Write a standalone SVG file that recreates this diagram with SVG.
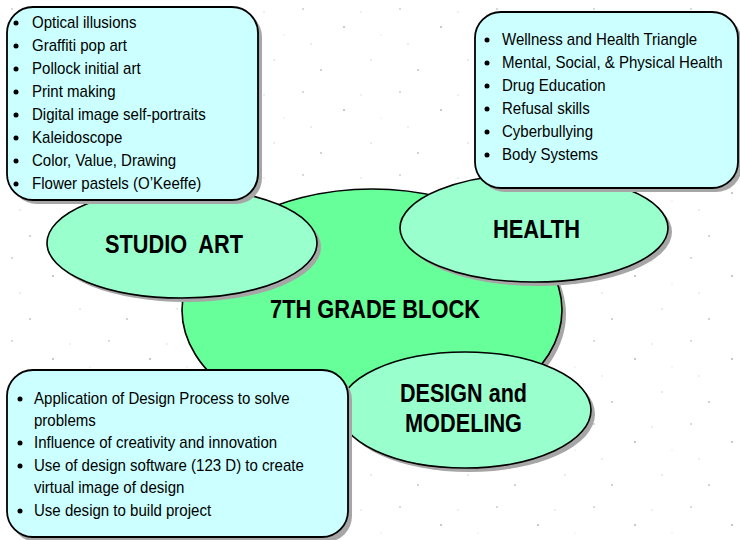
<svg xmlns="http://www.w3.org/2000/svg" width="740" height="540" viewBox="0 0 740 540">
<defs>
<pattern id="speck" x="0" y="0" width="97" height="83" patternUnits="userSpaceOnUse">
<rect width="97" height="83" fill="#ffffff"/>
<circle cx="12" cy="9" r="0.9" fill="#c8c8c8"/>
<circle cx="53" cy="27" r="1.1" fill="#bdbdbd"/>
<circle cx="80" cy="60" r="0.8" fill="#cfcfcf"/>
<circle cx="30" cy="70" r="1" fill="#c4c4c4"/>
<circle cx="70" cy="12" r="0.7" fill="#d4d4d4"/>
<circle cx="20" cy="44" r="0.7" fill="#d0d0d0"/>
<circle cx="90" cy="35" r="0.6" fill="#d8d8d8"/>
</pattern>
</defs>
<style>
.sh{fill:#a6a6a6;stroke:none}
.main{fill:#66ff99;stroke:#000;stroke-width:1.6}
.sub{fill:#99ffcc;stroke:#000;stroke-width:1.6}
.box{fill:#ccffff;stroke:#000;stroke-width:1.8}
.lbl{font-family:"Liberation Sans",Arial,sans-serif;font-weight:bold;font-size:25px;fill:#000;text-anchor:middle}
.it{font-family:"Liberation Sans",Arial,sans-serif;font-size:16px;fill:#000}
.bul{fill:#000}
</style>
<rect width="740" height="540" fill="url(#speck)"/>
<g id="connectors"/>
<g id="node-7th-grade-block">
<ellipse class="sh" cx="376" cy="314" rx="190" ry="121"/>
<ellipse class="main" cx="372" cy="310" rx="190" ry="121"/>
<text class="lbl" x="375" y="318" textLength="210" lengthAdjust="spacingAndGlyphs">7TH GRADE BLOCK</text>
</g>
<g id="node-studio-art">
<ellipse class="sh" cx="186" cy="247" rx="135" ry="55"/>
<ellipse class="sub" cx="182" cy="243" rx="135" ry="55"/>
<text class="lbl" x="174" y="253" textLength="138" lengthAdjust="spacingAndGlyphs" xml:space="preserve">STUDIO  ART</text>
</g>
<g id="node-health">
<ellipse class="sh" cx="538" cy="232" rx="134" ry="54"/>
<ellipse class="sub" cx="534" cy="228" rx="134" ry="54"/>
<text class="lbl" x="536.5" y="238" textLength="87" lengthAdjust="spacingAndGlyphs">HEALTH</text>
</g>
<g id="node-design-modeling">
<ellipse class="sh" cx="469" cy="414" rx="126" ry="58"/>
<ellipse class="sub" cx="465" cy="410" rx="126" ry="58"/>
<text class="lbl" x="463.5" y="402" textLength="127" lengthAdjust="spacingAndGlyphs">DESIGN and</text>
<text class="lbl" x="463.5" y="432" textLength="117" lengthAdjust="spacingAndGlyphs">MODELING</text>
</g>
<g id="node-studio-art-list">
<rect class="sh" x="11" y="11" width="251" height="193" rx="26"/>
<rect class="box" x="7" y="7" width="251" height="193" rx="26"/>
<g class="bul">
<circle cx="16" cy="23" r="2.5"/><circle cx="16" cy="46" r="2.5"/><circle cx="16" cy="69" r="2.5"/><circle cx="16" cy="92" r="2.5"/>
<circle cx="16" cy="115" r="2.5"/><circle cx="16" cy="138" r="2.5"/><circle cx="16" cy="161" r="2.5"/><circle cx="16" cy="184" r="2.5"/>
</g>
<g transform="translate(32 0) scale(0.94 1)">
<text class="it" x="0" y="28.5">Optical illusions</text>
<text class="it" x="0" y="51.5">Graffiti pop art</text>
<text class="it" x="0" y="74.5">Pollock initial art</text>
<text class="it" x="0" y="97.5">Print making</text>
<text class="it" x="0" y="120.5">Digital image self-portraits</text>
<text class="it" x="0" y="143.5">Kaleidoscope</text>
<text class="it" x="0" y="166.5">Color, Value, Drawing</text>
<text class="it" x="0" y="189.5">Flower pastels (O’Keeffe)</text>
</g>
</g>
<g id="node-health-list">
<rect class="sh" x="479" y="16" width="263" height="176" rx="26"/>
<rect class="box" x="475" y="12" width="263" height="176" rx="26"/>
<g class="bul">
<circle cx="487" cy="40" r="2.5"/><circle cx="487" cy="63" r="2.5"/><circle cx="487" cy="86" r="2.5"/>
<circle cx="487" cy="109" r="2.5"/><circle cx="487" cy="132" r="2.5"/><circle cx="487" cy="155" r="2.5"/>
</g>
<g transform="translate(502 0) scale(0.94 1)">
<text class="it" x="0" y="45.5">Wellness and Health Triangle</text>
<text class="it" x="0" y="68.5">Mental, Social, &amp; Physical Health</text>
<text class="it" x="0" y="91.5">Drug Education</text>
<text class="it" x="0" y="114.5">Refusal skills</text>
<text class="it" x="0" y="137.5">Cyberbullying</text>
<text class="it" x="0" y="160.5">Body Systems</text>
</g>
</g>
<g id="node-design-list">
<rect class="sh" x="11" y="374" width="341" height="168" rx="26"/>
<rect class="box" x="7" y="370" width="341" height="167" rx="26"/>
<g class="bul">
<circle cx="20" cy="399" r="2.5"/><circle cx="20" cy="443" r="2.5"/><circle cx="20" cy="466" r="2.5"/><circle cx="20" cy="511" r="2.5"/>
</g>
<g transform="translate(34 0) scale(0.94 1)">
<text class="it" x="0" y="404.5">Application of Design Process to solve</text>
<text class="it" x="0" y="426.5">problems</text>
<text class="it" x="0" y="448.5">Influence of creativity and innovation</text>
<text class="it" x="0" y="471.5">Use of design software (123 D) to create</text>
<text class="it" x="0" y="493.5">virtual image of design</text>
<text class="it" x="0" y="516.5">Use design to build project</text>
</g>
</g>
</svg>
